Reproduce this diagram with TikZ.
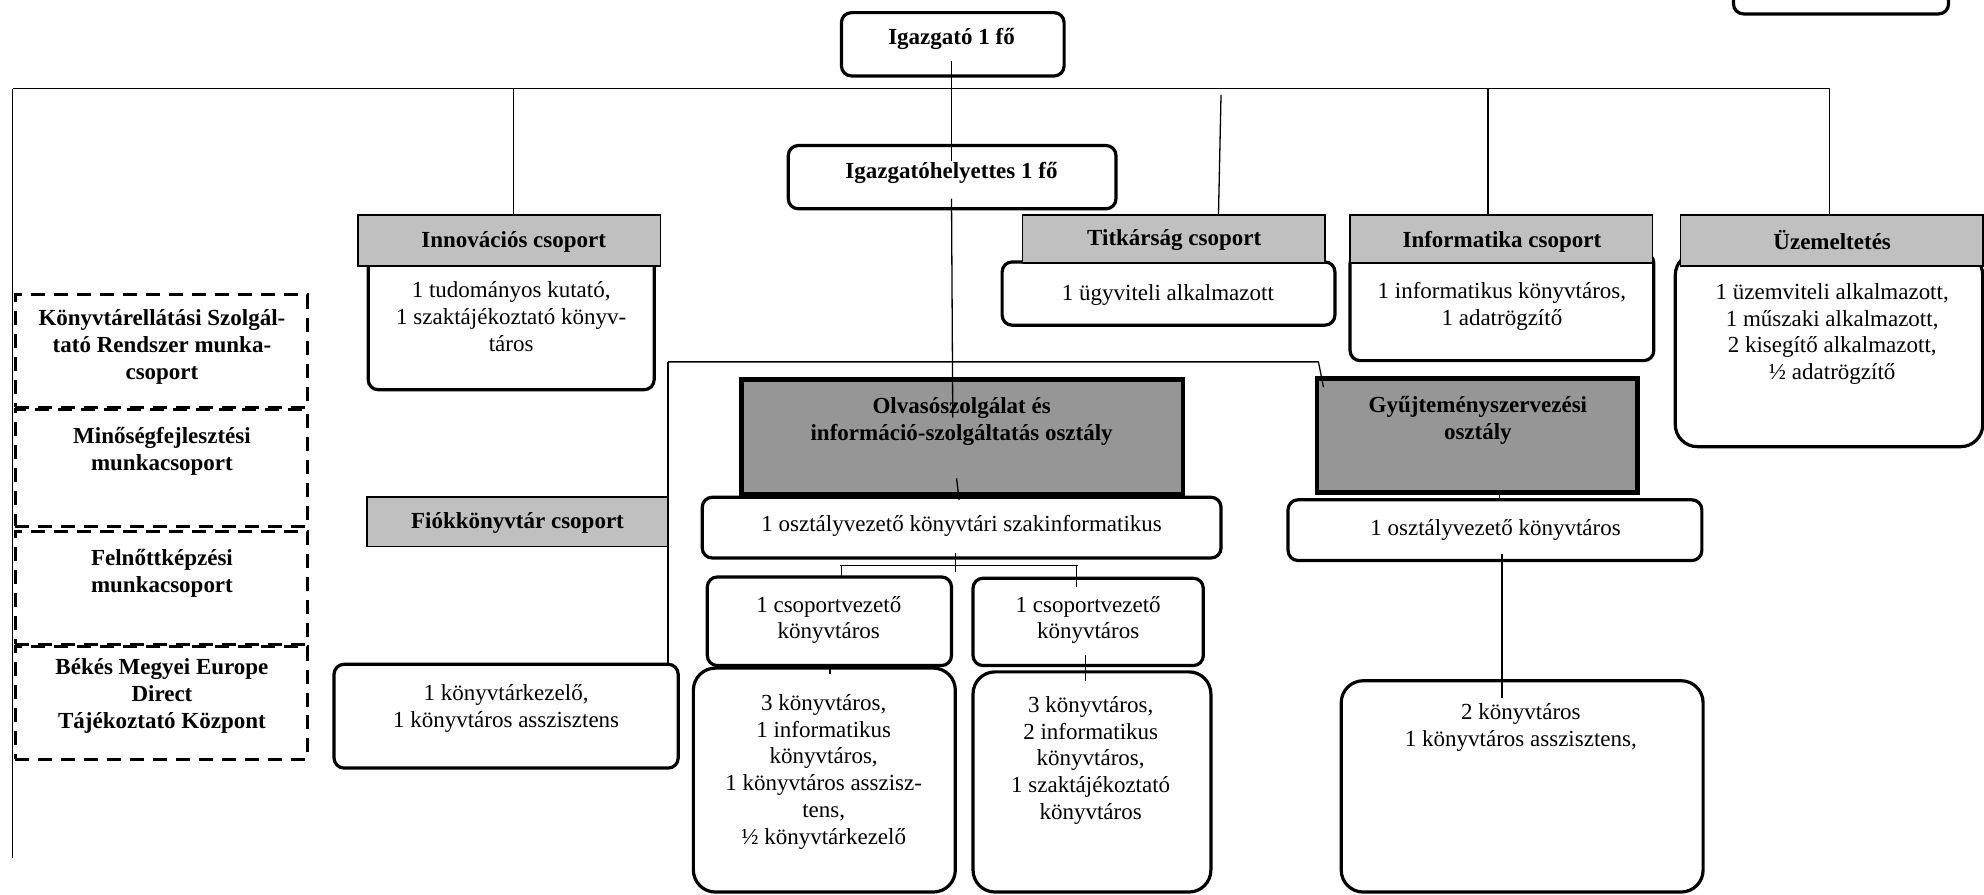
\documentclass[tikz,border=0pt]{standalone}
\usepackage{fontspec}
\setmainfont{Liberation Serif}
\definecolor{hdrgray}{HTML}{C0C0C0}
\definecolor{deptgray}{HTML}{969696}
\newcommand\mybox[6]{\node[#2, minimum width={(#5-#3)*0.6327pt}, minimum height={(#6-#4)*0.6327pt}] (#1) at ({(#3+#5)/2},{(#4+#6)/2}) {};}
\begin{document}
\begin{tikzpicture}[x=0.6327pt, y=-0.6327pt,
  rbox/.style={draw, rounded corners=5pt, line width=1.6pt, fill=white, inner sep=0pt},
  bigbox/.style={rbox, rounded corners=11pt},
  hdr/.style={draw, fill=hdrgray, line width=0.8pt, inner sep=0pt},
  dept/.style={draw, fill=deptgray, line width=2.3pt, inner sep=0pt},
  dbox/.style={draw, line width=1.5pt, dash pattern=on 7pt off 4.5pt, inner sep=0pt},
  conn/.style={line width=0.65pt},
  txt/.style={align=center, inner sep=0pt, font=\fontsize{11.5}{13.4}\selectfont},
  btxt/.style={align=center, inner sep=0pt, font=\fontsize{11.5}{13.4}\selectfont\bfseries}]
\useasboundingbox (0,0) rectangle (1568,707);
\clip (0,0) rectangle (1568,707);

% ---------- boxes ----------
\mybox{topR}{rbox}{1370}{-40}{1540}{11}
\mybox{ig}{rbox}{665}{10}{841}{60}
\mybox{hely}{rbox}{623}{115}{882}{165}

\mybox{innB}{rbox}{291}{200}{517}{308}
\mybox{innH}{hdr}{283}{170}{522}{210}
\mybox{titB}{rbox}{792}{207}{1055}{257}
\mybox{titH}{hdr}{808}{170}{1047}{208}
\mybox{infB}{rbox}{1067}{200}{1307}{285}
\mybox{infH}{hdr}{1067}{170}{1306}{208}
\mybox{uzB}{bigbox}{1324}{200}{1567}{353}
\mybox{uzH}{hdr}{1328}{170}{1567}{210}

\mybox{olv}{dept}{586}{300}{935}{391}
\mybox{osz1}{rbox}{555}{393}{965}{441}
\mybox{csL}{rbox}{559}{456}{752}{526}
\mybox{csR}{rbox}{769}{457}{951}{526}
\mybox{bigL}{bigbox}{548}{528}{755}{705}
\mybox{bigR}{bigbox}{769}{531}{957}{705}

\mybox{gy}{dept}{1041}{299}{1294}{389}
\mybox{osz2}{rbox}{1018}{395}{1345}{443}
\mybox{big2}{bigbox}{1060}{538}{1346}{705}

\mybox{fiok}{hdr}{290}{393}{528}{432}
\mybox{kk}{rbox}{264}{525}{536}{607}

\mybox{d1}{dbox}{12}{233}{243}{322}
\mybox{d2}{dbox}{12}{324}{243}{416}
\mybox{d3}{dbox}{12}{420}{243}{509}
\mybox{d4}{dbox}{12}{511}{243}{600}

% ---------- texts ----------
\node[btxt] (ig-t) at (752,31) {Igazgató 1 fő};
\node[btxt] (hely-t) at (752,137) {Igazgatóhelyettes 1 fő};
\node[btxt] (innH-t) at (406,191) {Innovációs csoport};
\node[txt] (innB-t) at (404,250) {1 tudományos kutató,\\1 szaktájékoztató könyv-\\táros};
\node[btxt] (titH-t) at (928,190) {Titkárság csoport};
\node[txt] (titB-t) at (923,233) {1 ügyviteli alkalmazott};
\node[btxt] (infH-t) at (1187,191) {Informatika csoport};
\node[txt] (infB-t) at (1187,242) {1 informatikus könyvtáros,\\1 adatrögzítő};
\node[btxt] (uzH-t) at (1448,190) {Üzemeltetés};
\node[txt] (uzB-t) at (1448,264) {1 üzemviteli alkalmazott,\\1 műszaki alkalmazott,\\2 kisegítő alkalmazott,\\½ adatrögzítő};
\node[btxt] (olv-t) at (760,333) {Olvasószolgálat és\\információ-szolgáltatás osztály};
\node[txt] (osz1-t) at (760,416) {1 osztályvezető könyvtári szakinformatikus};
\node[txt] (csL-t) at (655,490) {1 csoportvezető\\könyvtáros};
\node[txt] (csR-t) at (860,490) {1 csoportvezető\\könyvtáros};
\node[txt] (bigL-t) at (651,610) {3 könyvtáros,\\1 informatikus\\könyvtáros,\\1 könyvtáros asszisz-\\tens,\\½ könyvtárkezelő};
\node[txt] (bigR-t) at (862,601) {3 könyvtáros,\\2 informatikus\\könyvtáros,\\1 szaktájékoztató\\könyvtáros};
\node[btxt] (gy-t) at (1168,332) {Gyűjteményszervezési\\osztály};
\node[txt] (osz2-t) at (1182,419) {1 osztályvezető könyvtáros};
\node[txt] (big2-t) at (1202,575) {2 könyvtáros\\1 könyvtáros asszisztens,};
\node[btxt] (fiok-t) at (409,413) {Fiókkönyvtár csoport};
\node[txt] (kk-t) at (400,560) {1 könyvtárkezelő,\\1 könyvtáros asszisztens};
\node[btxt] (d1-t) at (128,274) {Könyvtárellátási Szolgál-\\tató Rendszer munka-\\csoport};
\node[btxt] (d2-t) at (128,357) {Minőségfejlesztési\\munkacsoport};
\node[btxt] (d3-t) at (128,453) {Felnőttképzési\\munkacsoport};
\node[btxt] (d4-t) at (128,550) {Békés Megyei Europe\\Direct\\Tájékoztató Központ};

% ---------- connector points ----------
\coordinate (hL) at (10,70);
\coordinate (hR) at (1446,70);
\coordinate (vL) at (10,678);
\coordinate (hInn) at (406,70);
\coordinate (hTit) at (965,75);
\coordinate (hInf) at (1176,70);
\coordinate (igA) at (752,48);
\coordinate (helyA) at (752,127);
\coordinate (helyB) at (752,157);
\coordinate (olvA) at (753,330);
\coordinate (olvB) at (756,378);
\coordinate (osz1A) at (758,395);
\coordinate (bL) at (528,286);
\coordinate (bR) at (1042,286);
\coordinate (gyA) at (1046,306);
\coordinate (kkA) at (528,525);
\coordinate (osz1B) at (755,437);
\coordinate (osz1C) at (755,452);
\coordinate (brL) at (664,447);
\coordinate (brR) at (852,447);
\coordinate (csLA) at (665,456);
\coordinate (csRA) at (851,464);
\coordinate (csLB) at (656,526);
\coordinate (bigLA) at (656,533);
\coordinate (csRB) at (858,518);
\coordinate (bigRA) at (858,538);
\coordinate (gyB) at (1185,389);
\coordinate (osz2A) at (1185,395);
\coordinate (osz2B) at (1187,438);
\coordinate (big2A) at (1187,552);

% ---------- connectors ----------
\draw[conn] (hL) -- (hR);
\draw[conn] (hL) -- (vL);
\draw[conn] (hInn) -- (innH.north -| hInn);
\draw[conn] (hTit) -- (titH.north -| 963,0);
\draw[conn] (hInf) -- (infH.north -| hInf);
\draw[conn] (hR) -- (uzH.north -| hR);
\draw[conn] (igA) -- (helyA);
\draw[conn] (helyB) -- (olvA);
\draw[conn] (olvB) -- (osz1A);
\draw[conn] (bL) -- (bR) -- (gyA);
\draw[conn] (bL) -- (kkA);
\draw[conn] (osz1B) -- (osz1C);
\draw[conn] (brL) -- (brR);
\draw[conn] (brL -| csLA) -- (csLA);
\draw[conn] (brR -| csRA) -- (csRA);
\draw[conn] (csLB) -- (bigLA);
\draw[conn] (csRB) -- (bigRA);
\draw[conn] (gyB) -- (osz2A);
\draw[conn] (osz2B) -- (big2A);
\end{tikzpicture}
\end{document}
